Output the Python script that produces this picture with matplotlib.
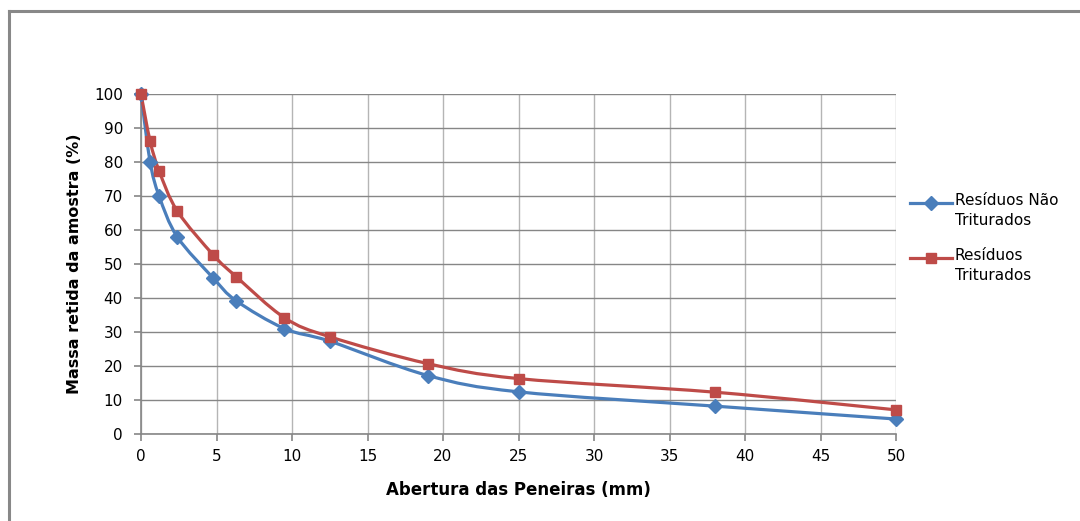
import matplotlib.pyplot as plt
import numpy as np
from matplotlib.path import Path
from matplotlib.patches import PathPatch
from matplotlib.lines import Line2D

plt.rcParams['font.family'] = ['DejaVu Sans']

# sieve openings (mm) and retained mass (%)
abertura = [0, 0.6, 1.2, 2.4, 4.8, 6.3, 9.5, 12.5, 19, 25, 38, 50]
nao_triturados = [100, 80.1, 70.0, 58.0, 45.8, 39.2, 31.0, 27.3, 17.2, 12.4, 8.2, 4.4]
triturados = [100, 86.2, 77.4, 65.6, 52.6, 46.3, 34.2, 28.6, 20.7, 16.3, 12.3, 7.1]

series_labels = ['Resíduos Não\nTriturados', 'Resíduos\nTriturados']
blue = '#4A7EBB'
red = '#BE4B48'


def smooth_path(x, y):
    # excel-like smoothed line (catmull-rom as bezier curves)
    pts = np.column_stack([x, y]).astype(float)
    n = len(pts)
    verts = [pts[0]]
    codes = [Path.MOVETO]
    for i in range(n - 1):
        p0 = pts[max(i - 1, 0)]
        p1 = pts[i]
        p2 = pts[i + 1]
        p3 = pts[min(i + 2, n - 1)]
        verts += [p1 + (p2 - p0) / 6, p2 - (p3 - p1) / 6, p2]
        codes += [Path.CURVE4] * 3
    return Path(verts, codes)


fig = plt.figure(figsize=(10.8, 5.21), dpi=100)
ax = fig.add_axes([141/1080, 1 - 434/521, 755/1080, 340/521])

styles = [(nao_triturados, blue, 'D', 7), (triturados, red, 's', 7)]
for yv, c, m, ms in styles:
    ax.add_patch(PathPatch(smooth_path(abertura, yv), fill=False, edgecolor=c,
                           lw=2.3, zorder=3, capstyle='round', joinstyle='round',
                           clip_on=False))
    ax.plot(abertura, yv, ls='none', marker=m, ms=ms, color=c, zorder=4, clip_on=False)

ax.set_xlim(0, 50)
ax.set_ylim(0, 100)
ax.set_xticks(np.arange(0, 51, 5))
ax.set_yticks(np.arange(0, 101, 10))
ax.xaxis.grid(True, color='#B5B5B5', lw=1)
ax.yaxis.grid(True, color='#868686', lw=1)
ax.set_axisbelow(True)
for s in ['top', 'right']:
    ax.spines[s].set_visible(False)
for s in ['left', 'bottom']:
    ax.spines[s].set_color('#868686')
    ax.spines[s].set_linewidth(1.2)
ax.tick_params(axis='both', colors='#868686', length=5, width=1.2, labelsize=11,
               labelcolor='black')
ax.tick_params(axis='y', pad=8)
ax.tick_params(axis='x', pad=6)

ax.set_xlabel('Abertura das Peneiras (mm)', fontsize=12, fontweight='bold', labelpad=12)
ax.set_ylabel('Massa retida da amostra (%)', fontsize=11.5, fontweight='bold', labelpad=9)

# legend drawn excel style: key aligned with first text line
W, H = 1080, 521
for (yv, c, m, ms), lab, ypx in zip(styles, series_labels, [203, 258]):
    yf = 1 - ypx / H
    fig.add_artist(Line2D([910/W, 952/W], [yf, yf], color=c, lw=2.3))
    fig.add_artist(Line2D([931/W], [yf], color=c, marker=m, ms=ms, ls='none'))
    fig.text(955/W, 1 - (ypx - 10) / H, lab, fontsize=11, va='top', ha='left',
             linespacing=1.45)

# chart border (top and left edges visible)
fig.add_artist(Line2D([9/W, 9/W], [0, 1 - 11/H], color='#888888', lw=2.2))
fig.add_artist(Line2D([9/W, 1], [1 - 11/H, 1 - 11/H], color='#888888', lw=2.2))

fig.savefig('out.png', dpi=100)
